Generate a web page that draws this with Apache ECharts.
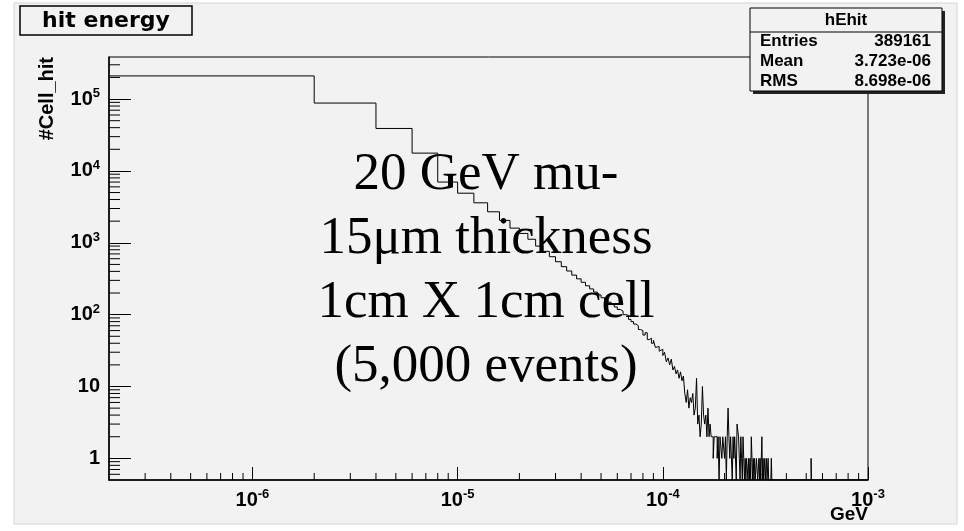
<!DOCTYPE html>
<html>
<head>
    <meta charset="utf-8"/>
    <title>hit energy</title>
    <script src="https://cdn.jsdelivr.net/npm/echarts@6.0.0/dist/echarts.min.js"></script>
    <style>body { margin: 0; background: #fff; }</style>
</head>
<body>
<div id="chart" style="width: 964px;height:531px;"></div>
<script type="text/javascript">
    // histogram hEhit: 500 bins of 2e-6 GeV from 0 to 1e-3
    var binWidth = 2e-6;
    var nBins = 500;
    var xRange = [2e-7, 1e-3];
    var yRange = [0.5, 3.85e5];

    // bin contents, bin 0 .. 169
    var counts = [
        210000, 88000, 39000, 17700, 7000, 4900, 3600, 2700, 2050, 1600,
        1350, 1120, 900, 760, 640, 545, 465, 405, 355, 315,
        282, 252, 228, 206, 188, 172, 160, 149, 138, 128,
        118, 112, 100, 98, 86, 80, 74, 70, 62, 60,
        52, 56, 45, 47, 40, 44, 35, 36, 31, 33,
        27, 30, 22, 25, 20, 24, 17, 19, 15, 17,
        13, 16, 12, 14, 8, 6, 9, 5, 7, 6,
        8, 4, 5, 13, 3, 4, 2, 3, 10, 4,
        3, 4, 2, 5, 2, 3, 2, 2, 1, 2,
        2, 2, 1, 2, 0, 2, 2, 1, 2, 2,
        1, 2, 0, 2, 5, 2, 1, 2, 2, 0,
        2, 1, 2, 2, 0, 3, 3, 2, 1, 0,
        2, 1, 0, 2, 1, 0, 1, 0, 1, 1,
        0, 1, 0, 1, 0, 2, 1, 0, 1, 0,
        1, 0, 0, 1, 1, 0, 0, 1, 0, 1,
        0, 0, 2, 0, 1, 0, 0, 1, 0, 0,
        1, 0, 0, 1, 0, 0, 0, 0, 0, 1
    ];
    // lone entries further out: [bin, count]
    var tailCounts = [[264, 1]];

    var statsLabels = ['Entries', 'Mean', 'RMS'];
    var statsValues = ['389161', '3.723e-06', '8.698e-06'];
    var noteLines = ['20 GeV mu-', '15\u03bcm thickness', '1cm X 1cm cell', '(5,000 events)'];

    var sans = '"Liberation Sans", Arial, sans-serif';

    var allCounts = [];
    for (var i = 0; i < nBins; i++) {
        allCounts.push(i < counts.length ? counts[i] : 0);
    }
    tailCounts.forEach(function (t) { allCounts[t[0]] = t[1]; });

    // points on the low edge of each bin, empty bins drop to the frame bottom
    var stepData = allCounts.map(function (c, i) {
        return [i === 0 ? xRange[0] : i * binWidth, c > 0 ? c : yRange[0]];
    });
    stepData.push([xRange[1], stepData[nBins - 1][1]]);

    // ROOT style log minor ticks (2..9 x 10^k)
    var minorTicks = [];
    var k, m, v;
    for (k = -7; k <= -4; k++) {
        for (m = 2; m <= 9; m++) {
            v = m * Math.pow(10, k);
            if (v > xRange[0] * 1.01 && v < xRange[1]) minorTicks.push([v, yRange[0], 0]);
        }
    }
    for (k = -1; k <= 5; k++) {
        for (m = 2; m <= 9; m++) {
            v = m * Math.pow(10, k);
            if (v > yRange[0] * 1.01 && v < yRange[1]) minorTicks.push([xRange[0], v, 1]);
        }
    }

    var labelRich = {
        b: { fontSize: 20, fontWeight: 'bold', fontFamily: sans, color: '#000', lineHeight: 24 },
        e: { fontSize: 13, fontWeight: 'bold', fontFamily: sans, color: '#000', lineHeight: 13, verticalAlign: 'top' }
    };
    function powLabel(val, plain) {
        var e = Math.round(Math.log10(val));
        if (plain && e === 0) return '{b|1}';
        if (plain && e === 1) return '{b|10}';
        return '{b|10}{e|' + e + '}';
    }

    var statsGraphics = [
        { type: 'rect', z: 100, shape: { x: 753, y: 11, width: 192, height: 83 }, style: { fill: '#222' } },
        { type: 'rect', z: 101, shape: { x: 750, y: 8, width: 192, height: 83 }, style: { fill: '#f2f2f2', stroke: '#000', lineWidth: 1 } },
        { type: 'line', z: 102, shape: { x1: 750, y1: 32, x2: 942, y2: 32 }, style: { stroke: '#000', lineWidth: 1 } },
        { type: 'text', z: 102, x: 846, y: 20, style: { text: 'hEhit', font: 'bold 17px ' + sans, fill: '#000', align: 'center', verticalAlign: 'middle' } }
    ];
    statsLabels.forEach(function (lab, j) {
        statsGraphics.push({ type: 'text', z: 102, x: 760, y: 41 + j * 20,
            style: { text: lab, font: 'bold 17px ' + sans, fill: '#000', align: 'left', verticalAlign: 'middle' } });
        statsGraphics.push({ type: 'text', z: 102, x: 931, y: 41 + j * 20,
            style: { text: statsValues[j], font: 'bold 17px ' + sans, fill: '#000', align: 'right', verticalAlign: 'middle' } });
    });

    var option = {
        animation: false,
        backgroundColor: '#fff',
        grid: {
            left: 109, top: 57, right: 96, bottom: 51,
            show: true, borderColor: '#000', borderWidth: 1, backgroundColor: 'transparent'
        },
        xAxis: {
            type: 'log', logBase: 10,
            min: xRange[0], max: xRange[1],
            axisLine: { lineStyle: { color: '#000', width: 1.5 } },
            axisTick: { inside: true, length: 13, lineStyle: { color: '#000', width: 1 } },
            splitLine: { show: false },
            axisLabel: {
                margin: 8, showMinLabel: false,
                formatter: function (val) { return powLabel(val, false); },
                rich: labelRich
            }
        },
        yAxis: {
            type: 'log', logBase: 10,
            min: yRange[0], max: yRange[1],
            axisLine: { lineStyle: { color: '#000', width: 1.5 } },
            axisTick: { inside: true, length: 22, lineStyle: { color: '#000', width: 1 } },
            splitLine: { show: false },
            axisLabel: {
                margin: 9, showMinLabel: false, showMaxLabel: false,
                formatter: function (val) { return powLabel(val, true); },
                rich: labelRich
            }
        },
        series: [
            {
                name: 'hEhit',
                type: 'line',
                step: 'end',
                symbol: 'none',
                data: stepData,
                lineStyle: { color: '#000', width: 1 }
            },
            {
                type: 'custom',
                silent: true,
                data: minorTicks,
                renderItem: function (params, api) {
                    var p = api.coord([api.value(0), api.value(1)]);
                    var onX = api.value(2) === 0;
                    return {
                        type: 'line',
                        shape: onX ? { x1: p[0], y1: p[1], x2: p[0], y2: p[1] - 7 }
                                   : { x1: p[0], y1: p[1], x2: p[0] + 11, y2: p[1] },
                        style: { stroke: '#000', lineWidth: 1 }
                    };
                }
            }
        ],
        graphic: [
            { type: 'rect', z: -10, shape: { x: 14, y: 3, width: 943, height: 521 }, style: { fill: '#f2f2f2', stroke: '#d4d4d4', lineWidth: 1 } },
            { type: 'rect', z: 100, shape: { x: 20, y: 6, width: 172, height: 29 }, style: { fill: '#f2f2f2', stroke: '#000', lineWidth: 1.5 } },
            { type: 'text', z: 101, x: 106, y: 21, style: { text: 'hit energy', font: 'bold 22px "DejaVu Sans", sans-serif', fill: '#000', align: 'center', verticalAlign: 'middle' } },
            { type: 'text', z: 100, x: 47, y: 57, rotation: Math.PI / 2, style: { text: '#Cell_hit', font: 'bold 20px ' + sans, fill: '#000', align: 'right', verticalAlign: 'middle' } },
            { type: 'text', z: 100, x: 868, y: 515, style: { text: 'GeV', font: 'bold 19px ' + sans, fill: '#000', align: 'right', verticalAlign: 'middle' } },
            { type: 'text', z: 100, x: 486, y: 143, style: { text: noteLines.join('\n'), font: '53px "Liberation Serif", "Times New Roman", serif', lineHeight: 64, fill: '#000', align: 'center', verticalAlign: 'top' } }
        ].concat(statsGraphics)
    };

    var chart = echarts.init(document.getElementById('chart'));
    chart.setOption(option);
</script>
</body>
</html>
